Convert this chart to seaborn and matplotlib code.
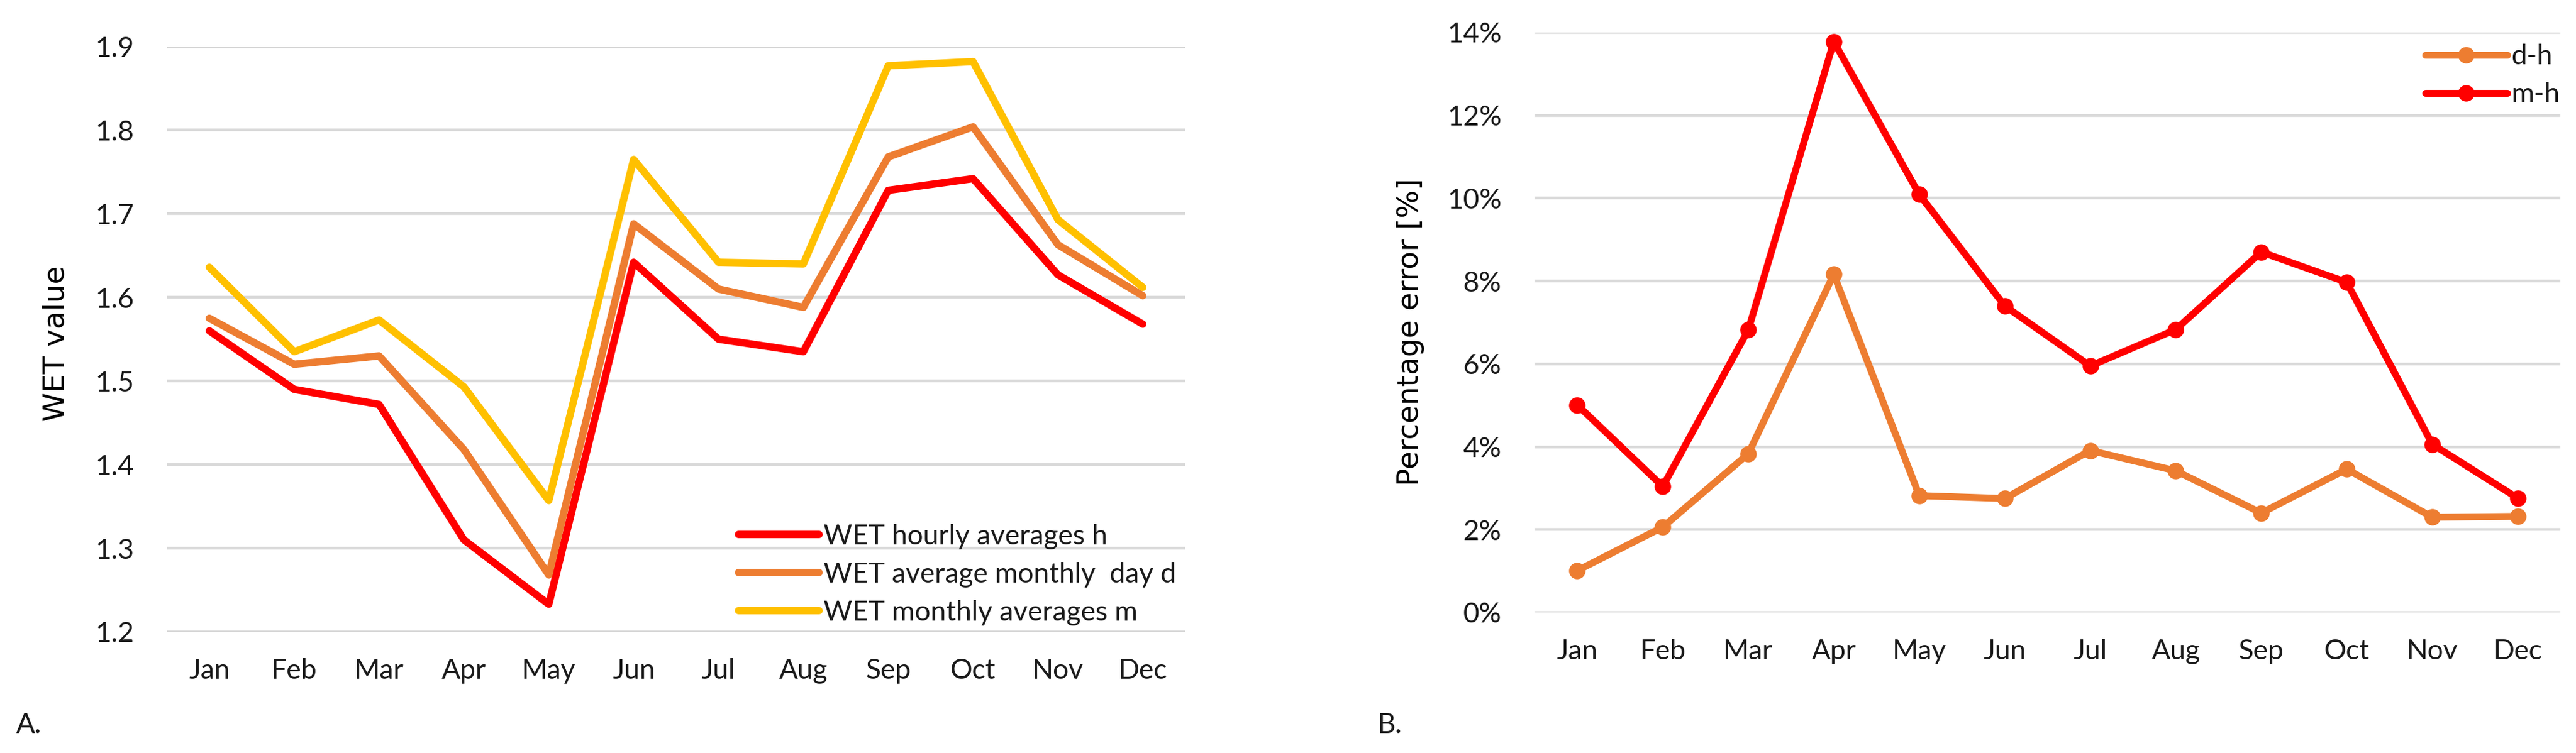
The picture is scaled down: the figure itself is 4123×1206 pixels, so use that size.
import matplotlib
matplotlib.use("Agg")
import matplotlib.pyplot as plt
import seaborn as sns
import numpy as np
import pandas as pd
from matplotlib.ticker import PercentFormatter

# --- data ---
months = ['Jan', 'Feb', 'Mar', 'Apr', 'May', 'Jun', 'Jul', 'Aug', 'Sep', 'Oct', 'Nov', 'Dec']
wet_hourly = [1.560, 1.490, 1.472, 1.310, 1.233, 1.642, 1.550, 1.535, 1.728, 1.742, 1.627, 1.568]
wet_day = [1.575, 1.520, 1.530, 1.418, 1.268, 1.688, 1.610, 1.588, 1.768, 1.804, 1.663, 1.602]
wet_monthly = [1.636, 1.535, 1.573, 1.493, 1.357, 1.765, 1.642, 1.640, 1.877, 1.882, 1.693, 1.612]
err_dh = [1.01, 2.06, 3.83, 8.16, 2.82, 2.75, 3.91, 3.42, 2.40, 3.46, 2.30, 2.32]
err_mh = [5.01, 3.04, 6.82, 13.78, 10.09, 7.40, 5.95, 6.83, 8.70, 7.97, 4.06, 2.76]

labels_a = ['WET hourly averages h', 'WET average monthly  day d', 'WET monthly averages m']
labels_b = ['d-h', 'm-h']
colors_a = ['#FF0000', '#ED7D31', '#FFC000']
colors_b = ['#ED7D31', '#FF0000']

x = np.arange(len(months))
df_a = pd.DataFrame({
    'x': np.tile(x, 3),
    'value': wet_hourly + wet_day + wet_monthly,
    'series': np.repeat(labels_a, len(months)),
})
df_b = pd.DataFrame({
    'x': np.tile(x, 2),
    'value': err_dh + err_mh,
    'series': np.repeat(labels_b, len(months)),
})

sns.set_theme(style="white")
plt.rcParams['font.family'] = ['Lato', 'DejaVu Sans']
plt.rcParams['lines.solid_joinstyle'] = 'round'
plt.rcParams['lines.solid_capstyle'] = 'round'

fig = plt.figure(figsize=(41.23, 12.06), dpi=100)
ax1 = fig.add_axes([0.0648, 0.1609, 0.3953, 0.7773])
ax2 = fig.add_axes([0.5957, 0.1866, 0.3983, 0.7703])

tick_fs = 32
grid_col = '#D9D9D9'
text_col = '#1a1a1a'

# --- A. WET values ---
sns.lineplot(data=df_a, x='x', y='value', hue='series', palette=colors_a,
             hue_order=labels_a, linewidth=8.5, ax=ax1)
ax1.set_ylim(1.2, 1.9)
ax1.set_yticks(np.arange(1.2, 1.91, 0.1))
ax1.set_yticklabels([f"{v:.1f}" for v in np.arange(1.2, 1.91, 0.1)])

# --- B. percentage error ---
sns.lineplot(data=df_b, x='x', y='value', hue='series', palette=colors_b,
             hue_order=labels_b, linewidth=8, marker='o', markersize=19,
             markeredgewidth=0, ax=ax2)
ax2.set_ylim(0, 14)
ax2.set_yticks(np.arange(0, 15, 2))
ax2.yaxis.set_major_formatter(PercentFormatter(decimals=0))

for ax in (ax1, ax2):
    ax.set_xlim(-0.5, 11.5)
    ax.set_xticks(x)
    ax.set_xticklabels(months)
    ax.set_xlabel('')
    ax.grid(axis='y', color=grid_col, linewidth=3.2)
    ax.set_axisbelow(True)
    for s in ax.spines.values():
        s.set_visible(False)
    ax.tick_params(axis='both', length=0, labelsize=tick_fs, colors=text_col)
    ax.tick_params(axis='x', pad=30)
    ax.tick_params(axis='y', pad=38)

ax1.set_ylabel('WET value', family='DejaVu Sans', fontsize=34, color='black')
ax1.yaxis.set_label_coords(-0.095, 0.493)
ax2.set_ylabel('Percentage error [%]', family='DejaVu Sans', fontsize=34, color='black')
ax2.yaxis.set_label_coords(-0.107, 0.484)

h, l = ax1.get_legend_handles_labels()
ax1.legend(h, l, loc='center left', bbox_to_anchor=(0.2867, 0.2371),
           bbox_transform=fig.transFigure, frameon=False, fontsize=tick_fs,
           borderpad=0, borderaxespad=0, handlelength=2.9, handletextpad=0.15,
           labelspacing=0.45, labelcolor=text_col)
h, l = ax2.get_legend_handles_labels()
ax2.legend(h, l, loc='center left', bbox_to_anchor=(0.9415, 0.8993),
           bbox_transform=fig.transFigure, frameon=False, fontsize=tick_fs,
           borderpad=0, borderaxespad=0, handlelength=2.95, handletextpad=0.15,
           labelspacing=0.45, labelcolor=text_col)

fig.text(26 / 4123, 0.037, 'A.', fontsize=tick_fs, va='center', ha='left', color=text_col)
fig.text(2205 / 4123, 0.037, 'B.', fontsize=tick_fs, va='center', ha='left', color=text_col)

fig.savefig('out.png', dpi=100, facecolor='white')
